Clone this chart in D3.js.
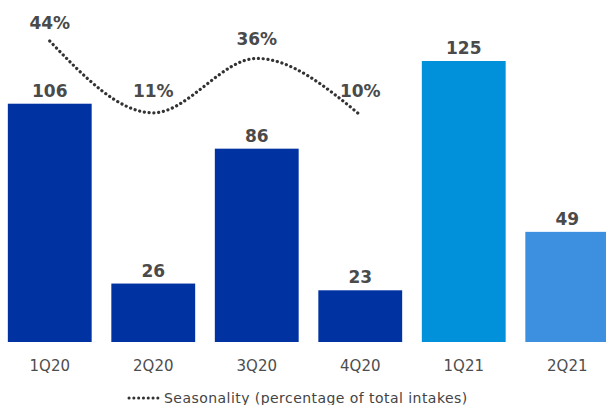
<!DOCTYPE html>
<html>
<head>
<meta charset="utf-8">
<script src="https://cdn.jsdelivr.net/npm/d3@7"></script>
<style>
  body { margin: 0; background: #fff; }
  svg { display: block; font-family: "DejaVu Sans", Verdana, sans-serif; }
</style>
</head>
<body>
<div id="chart"></div>
<script>
var svgWidth = 606;
var svgHeight = 405;

// data
var quarters = ["1Q20", "2Q20", "3Q20", "4Q20", "1Q21", "2Q21"];
var intakes = [106, 26, 86, 23, 125, 49];
var barColors = ["#0033a1", "#0033a1", "#0033a1", "#0033a1", "#0091da", "#3d8fe0"];
var seasonQuarters = ["1Q20", "2Q20", "3Q20", "4Q20"];
var seasonality = [44, 11, 36, 10];
var legendLabel = "Seasonality (percentage of total intakes)";

var svg = d3.select("#chart")
  .append("svg")
  .attr("width", svgWidth)
  .attr("height", svgHeight);

var x = d3.scaleBand()
  .domain(quarters)
  .range([-2, 619])
  .paddingInner(0.19)
  .paddingOuter(0.095);

var y = d3.scaleLinear()
  .domain([0, 125])
  .range([342, 61]);

// separate scale for the seasonality line
var yPct = d3.scaleLinear()
  .domain([0, 44])
  .range([136.8, 41]);

// bars
svg.selectAll("rect.bar")
  .data(intakes)
  .enter()
  .append("rect")
  .attr("class", "bar")
  .attr("x", (d, i) => x(quarters[i]))
  .attr("y", d => y(d))
  .attr("width", x.bandwidth())
  .attr("height", d => y(0) - y(d))
  .attr("fill", (d, i) => barColors[i]);

// value labels
svg.selectAll("text.value")
  .data(intakes)
  .enter()
  .append("text")
  .attr("class", "value")
  .attr("x", (d, i) => x(quarters[i]) + x.bandwidth() / 2)
  .attr("y", d => y(d) - 7)
  .attr("text-anchor", "middle")
  .attr("font-size", 17)
  .attr("font-weight", "bold")
  .attr("fill", "#4a4a4a")
  .text(d => d);

// category axis (no line, no ticks)
var xAxis = svg.append("g")
  .attr("transform", "translate(0, 342)")
  .call(d3.axisBottom(x).tickSize(0).tickPadding(18));
xAxis.select(".domain").remove();
xAxis.selectAll("text")
  .attr("font-family", "DejaVu Sans, Verdana, sans-serif")
  .attr("font-size", 15)
  .attr("fill", "#4d4d4d");

// seasonality dotted line
var line = d3.line()
  .x((d, i) => x(seasonQuarters[i]) + x.bandwidth() / 2)
  .y(d => yPct(d))
  .curve(d3.curveMonotoneX);

svg.append("path")
  .datum(seasonality)
  .attr("d", line)
  .attr("fill", "none")
  .attr("stroke", "#333")
  .attr("stroke-width", 3.2)
  .attr("stroke-linecap", "round")
  .attr("stroke-dasharray", "0.1,4.7");

var pctOffsets = [-12, -16, -13, -18];
svg.selectAll("text.pct")
  .data(seasonality)
  .enter()
  .append("text")
  .attr("class", "pct")
  .attr("x", (d, i) => x(seasonQuarters[i]) + x.bandwidth() / 2)
  .attr("y", (d, i) => yPct(d) + pctOffsets[i])
  .attr("text-anchor", "middle")
  .attr("font-size", 17)
  .attr("font-weight", "bold")
  .attr("fill", "#4a4a4a")
  .text(d => d + "%");

// legend
var legend = svg.append("g")
  .attr("transform", "translate(128, 398)");

legend.append("line")
  .attr("x1", 1)
  .attr("x2", 31)
  .attr("y1", 0)
  .attr("y2", 0)
  .attr("stroke", "#333")
  .attr("stroke-width", 3)
  .attr("stroke-linecap", "round")
  .attr("stroke-dasharray", "0.1,4.7");

legend.append("text")
  .attr("x", 36)
  .attr("y", 5)
  .attr("font-size", 14)
  .attr("letter-spacing", 0.45)
  .attr("fill", "#444")
  .text(legendLabel);
</script>
</body>
</html>
